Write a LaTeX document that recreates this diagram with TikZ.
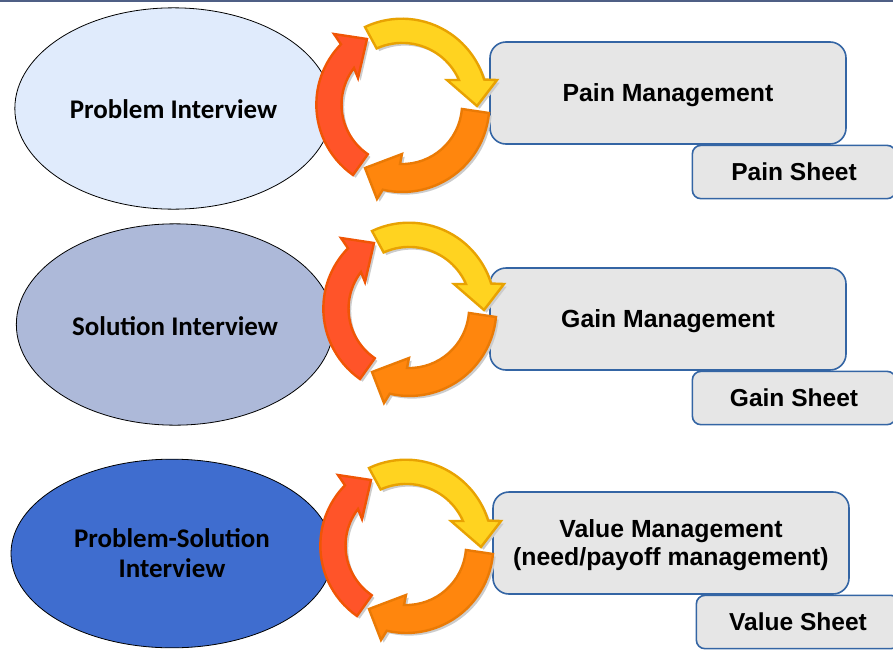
\documentclass[tikz,border=0pt]{standalone}
\usepackage{fontspec}
\setmainfont{Liberation Sans}
\newfontfamily\intvfont{Carlito}
\usetikzlibrary{shapes.geometric, shadows}
\definecolor{paleblue}{HTML}{E0EBFC}
\definecolor{midblue}{HTML}{ADB9D9}
\definecolor{deepblue}{HTML}{3F6DCF}
\definecolor{boxgray}{HTML}{E6E6E6}
\definecolor{boxline}{HTML}{3465A4}
\definecolor{topline}{HTML}{4F5F85}
\definecolor{arrowshade}{HTML}{CCCCCC}
\definecolor{yellowfill}{HTML}{FFD320}
\definecolor{yellowline}{HTML}{E8A202}
\definecolor{orangefill}{HTML}{FF860D}
\definecolor{orangeline}{HTML}{EA7A05}
\definecolor{redfill}{HTML}{FF5429}
\definecolor{redline}{HTML}{F05505}

\begin{document}
\begin{tikzpicture}[x=0.75pt,y=-0.75pt]
\tikzstyle{intv}=[ellipse,draw=black,line width=0.6pt,inner sep=0pt,align=center,font=\intvfont\bfseries\fontsize{20.2}{22.5}\selectfont]
\tikzstyle{manage}=[rectangle,rounded corners=12pt,draw=boxline,fill=boxgray,line width=1.2pt,minimum width=267pt,minimum height=76.5pt,inner sep=0pt,align=center,text depth=-1.5pt,font=\bfseries\fontsize{18.6}{21}\selectfont]
\tikzstyle{sheet}=[rectangle,rounded corners=6.5pt,draw=boxline,fill=boxgray,line width=1.2pt,minimum width=152.5pt,minimum height=40pt,inner sep=0pt,font=\bfseries\fontsize{18.4}{21}\selectfont]
\tikzstyle{cycle}=[line width=1.8pt,miter limit=10,general shadow={shadow xshift=2pt,shadow yshift=-2pt,fill=arrowshade}]
\useasboundingbox (0,0) rectangle (893,650);
\coordinate (T_0) at (0,1);
\coordinate (T_1) at (893,1);
\draw[topline,line width=1.2pt] (T_0) -- (T_1);
\node[intv,fill=paleblue,minimum width=238pt,minimum height=151pt,text height=15.5pt] (I_1) at (173.5,108.5) {Problem Interview};
\node[intv,fill=midblue,minimum width=238pt,minimum height=151pt,text height=16.5pt] (I_2) at (175,324.5) {Solution Interview};
\node[intv,fill=deepblue,minimum width=241.5pt,minimum height=141.5pt] (I_3) at (172,553.5) {Problem-Solution\\Interview};
\node[manage] (M_1) at (668,93) {Pain Management};
\node[manage] (M_2) at (668,319) {Gain Management};
\node[manage] (M_3) at (671,543) {Value Management\\(need/payoff management)};
\node[sheet] (S_1) at (794,172) {Pain Sheet};
\node[sheet] (S_2) at (794,398) {Gain Sheet};
\node[sheet] (S_3) at (798,622) {Value Sheet};
\foreach \cx/\cy in {402/105, 409/309, 406/546} {
\begin{scope}[shift={(\cx,\cy)}]
\filldraw[cycle,fill=redfill,draw=redline] (-49,70) arc[start angle=125,end angle=224.5,radius=86] -- (-68,-71) -- (-35,-66) -- (-44,-27) -- (-48,-37) arc[start angle=217.6,end angle=124.2,radius=60] -- cycle;
\filldraw[cycle,fill=yellowfill,draw=yellowline] (-37,-78) arc[start angle=244.6,end angle=343,radius=86] -- (95,-25) -- (75,1) -- (45,-25) -- (57,-25) arc[start angle=-23.7,end angle=-114.4,radius=62] -- cycle;
\filldraw[cycle,fill=orangefill,draw=orangeline] (87,8) arc[start angle=5.3,end angle=103,radius=87] -- (-25,94) -- (-37,63) -- (0,49) -- (-2,59) arc[start angle=92,end angle=4.7,radius=60] -- cycle;
\end{scope}
}
\end{tikzpicture}
\end{document}
